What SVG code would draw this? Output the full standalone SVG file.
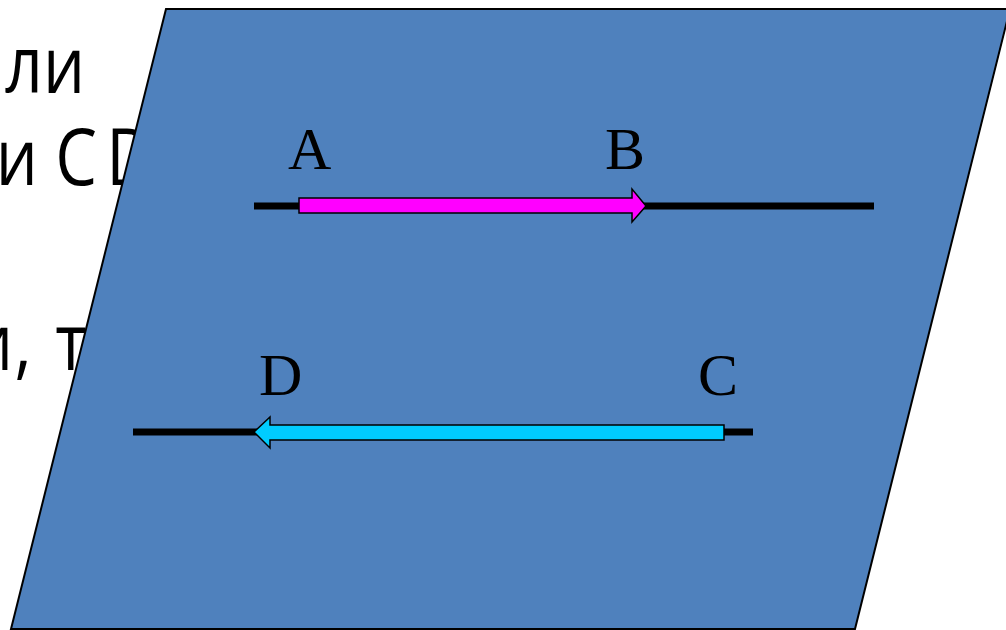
<svg xmlns="http://www.w3.org/2000/svg" width="1006" height="630" viewBox="0 0 1006 630">
  <style>
    .bg-text { font-family: "Open Sans", "Noto Sans", "DejaVu Sans", sans-serif; font-size: 78px; fill: #000000; }
    .label { font-family: "Liberation Serif", "Times New Roman", serif; font-size: 60px; fill: #000000; }
    .line { stroke: #000000; stroke-width: 7; fill: none; }
    .arrow { stroke: #000000; stroke-width: 1.5; stroke-linejoin: miter; }
  </style>
  <rect x="0" y="0" width="1006" height="630" fill="#FFFFFF"/>
  <g id="background-text" transform="scale(0.85,1)">
    <text class="bg-text" x="6" y="93">ли</text>
    <text class="bg-text" x="-5" y="185">и C<tspan x="125">D</tspan></text>
    <text class="bg-text" x="-34" y="370">и<tspan x="17">, </tspan><tspan x="65">т</tspan></text>
  </g>
  <g id="plane">
    <polygon points="166,9 1010,9 855,629 11,629" fill="#4F81BD" stroke="#000000" stroke-width="2"/>
  </g>
  <g id="connectors">
    <line class="line" x1="254" y1="206" x2="874" y2="206"/>
    <line class="line" x1="133" y1="432" x2="753" y2="432"/>
  </g>
  <g id="vector-AB">
    <polygon class="arrow" fill="#FF00FF" points="299,198 632,198 632,189 646,206 632,222 632,213 299,213"/>
  </g>
  <g id="vector-CD">
    <polygon class="arrow" fill="#00CCFF" points="724,425 270,425 270,417 254,432 270,448 270,440 724,440"/>
  </g>
  <g id="label-A"><text class="label" x="288" y="169">A</text></g>
  <g id="label-B"><text class="label" x="605" y="169">B</text></g>
  <g id="label-D"><text class="label" x="259" y="395">D</text></g>
  <g id="label-C"><text class="label" x="698" y="395">C</text></g>
</svg>
